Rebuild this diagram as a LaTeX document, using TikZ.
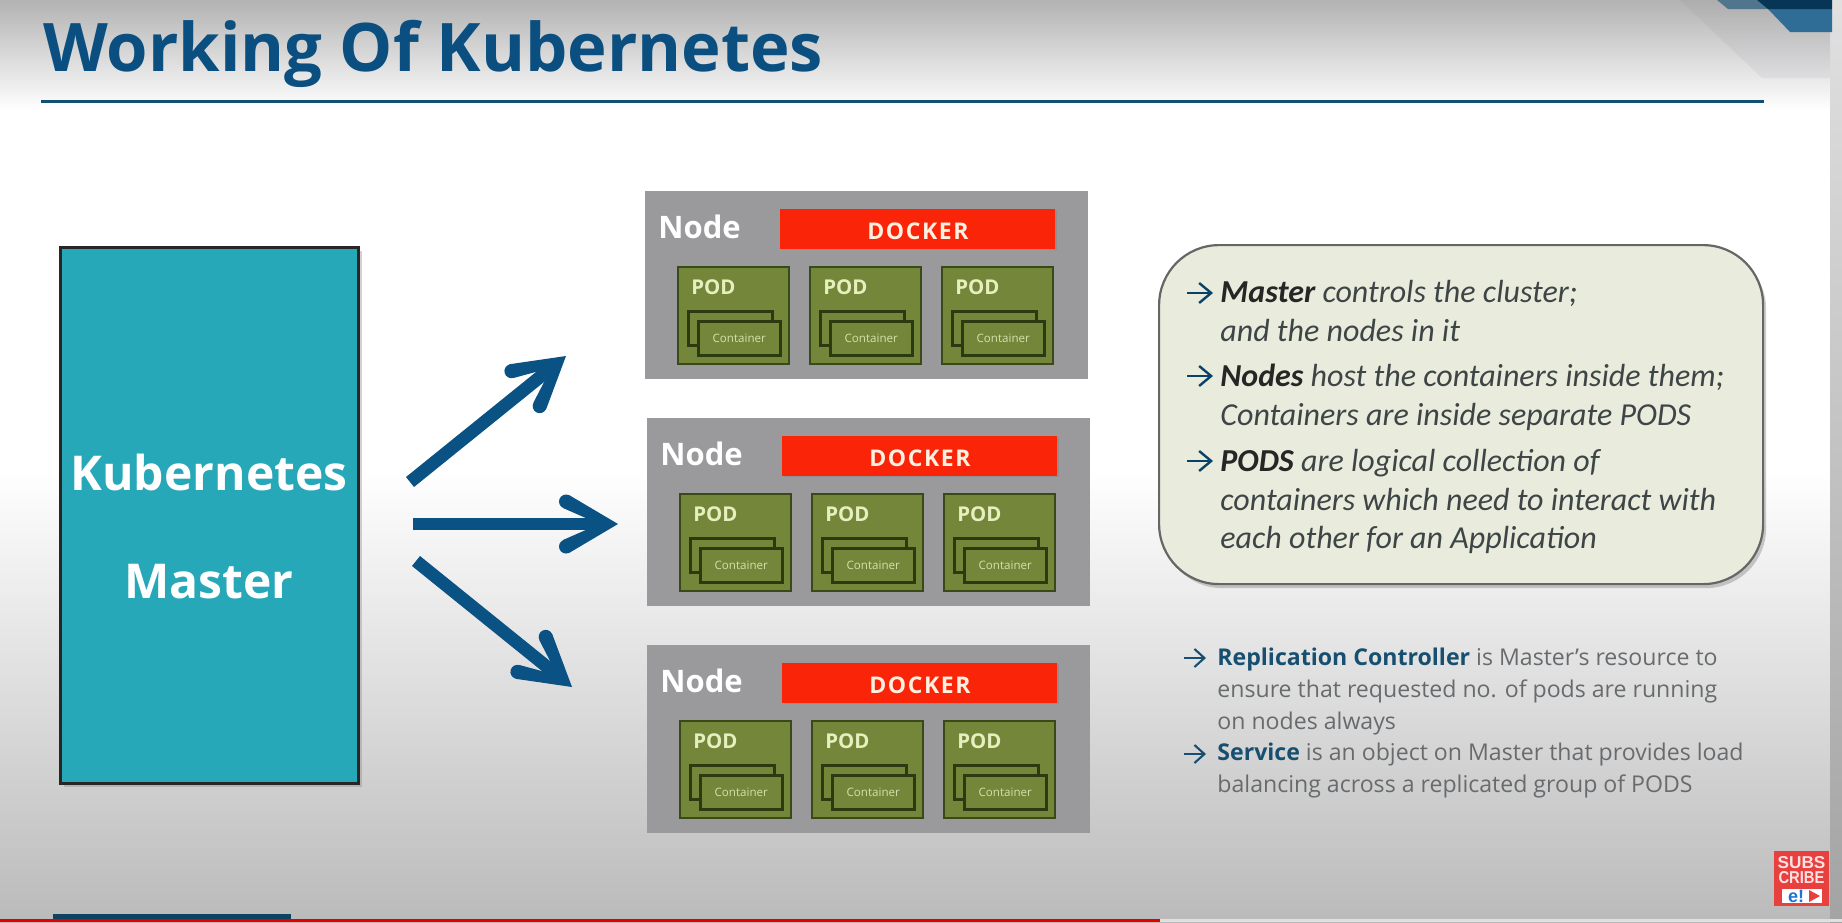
\documentclass[tikz,border=0pt]{standalone}
\usepackage{fontspec}
\setmainfont{Open Sans}
\newfontfamily\calib{Carlito}
\newfontfamily\arialish{Liberation Sans}
\usetikzlibrary{arrows.meta,shadows}
\definecolor{navy}{HTML}{0A5283}
\definecolor{titleblue}{HTML}{0A4F80}
\definecolor{rulecolor}{HTML}{104E72}
\definecolor{teal}{HTML}{27A8B8}
\definecolor{nodegray}{HTML}{9A9A9C}
\definecolor{dockred}{HTML}{FA2408}
\definecolor{podgreen}{HTML}{748639}
\definecolor{poddark}{HTML}{2B3A10}
\definecolor{podtext}{HTML}{E6F0BE}
\definecolor{calloutfill}{HTML}{E9ECDC}
\definecolor{bodytext}{HTML}{3E4546}
\definecolor{lowertext}{HTML}{686B6D}
\definecolor{lowerbold}{HTML}{174F70}
\definecolor{badgered}{HTML}{E8403F}
\tikzset{
  x=0.5pt,y=-0.5pt,
  nodebox/.style={anchor=north west,fill=nodegray,minimum width=221.5pt,minimum height=94pt,inner sep=0pt},
  nodelabel/.style={anchor=base west,text=white,font=\fontsize{15.5}{18}\selectfont\bfseries,inner sep=0pt},
  dockerbar/.style={anchor=north west,fill=dockred,minimum width=137.5pt,minimum height=20pt,inner sep=0pt,drop shadow={shadow xshift=1pt,shadow yshift=-0.5pt,opacity=.35}},
  dockerlabel/.style={anchor=base,text=white!88!orange,font=\fontsize{11.5}{14}\selectfont\bfseries,inner sep=0pt},
  podbox/.style={anchor=north west,fill=podgreen,draw=poddark!80!podgreen,line width=.9pt,minimum width=55.5pt,minimum height=48.5pt,inner sep=0pt},
  podlabel/.style={anchor=base west,text=podtext,font=\fontsize{10.2}{12}\selectfont\bfseries,inner sep=0pt},
  ctrback/.style={anchor=north west,fill=podgreen,draw=poddark,line width=1.3pt,minimum width=42pt,minimum height=17pt,inner sep=0pt},
  ctrfront/.style={anchor=north west,fill=podgreen,draw=poddark,line width=1.3pt,minimum width=41pt,minimum height=17pt,inner sep=0pt,text=podtext!85!podgreen,font=\fontsize{5.8}{7}\selectfont},
  bigshaft/.style={draw=navy,line width=6.4pt,shorten >=9pt},
  bullet/.style={draw=navy!80!black,line width=1.2pt,-{Straight Barb[length=6pt,width=10pt,line width=1.2pt]}},
  lowbullet/.style={draw=lowerbold,line width=1.05pt,-{Straight Barb[length=5pt,width=9pt,line width=1.05pt]}},
  para/.style={anchor=north west,align=left,inner sep=0pt,text=bodytext,font=\calib\fontsize{16}{19.2}\selectfont\itshape},
  lower/.style={anchor=north west,align=left,inner sep=0pt,text=lowertext,font=\fontsize{11.55}{15.8}\selectfont},
}
\newcommand{\bighead}[2]{%
  \fill[navy,shift={(#1)},rotate=#2] (0,0) -- (-49,-29) -- (-55,-16) -- (-30,-5) -- (-30,5) -- (-55,16) -- (-49,29) -- cycle
    (-52,-22.5) circle[radius=3.5pt] (-52,22.5) circle[radius=3.5pt];
}
\newcommand{\kubepod}[3]{%
  \node[podbox] (#1) at (#2,#3) {};
  \node[podlabel] (#1-label) at (#2+14,#3+28) {POD};
  \node[ctrback] (#1-back) at (#2+10,#3+44) {};
  \node[ctrfront] (#1-ctr) at (#2+20,#3+54) {Container};
}
\newcommand{\kubeblock}[3]{%
  \begin{scope}[shift={(#2,#3)}]
    \node[nodebox] (#1) at (0,0) {};
    \node[nodelabel] (#1-label) at (13,47) {Node};
    \node[dockerbar] (#1-docker) at (135,18) {};
    \node[dockerlabel] (#1-dockerlabel) at (273,48) {D\hspace{.8pt}O\hspace{.8pt}C\hspace{.8pt}K\hspace{.8pt}E\hspace{.8pt}R};
    \kubepod{#1-pod1}{32}{75}
    \kubepod{#1-pod2}{164}{75}
    \kubepod{#1-pod3}{296}{75}
  \end{scope}
}
\begin{document}
\begin{tikzpicture}
\useasboundingbox (0,0) rectangle (1842,922);
% background
\fill[white] (0,0) rectangle (1842,922);
\shade[top color=black!30,bottom color=white] (0,0) rectangle (1842,110);
\shade[top color=white,bottom color=black!27] (0,470) rectangle (1842,922);
% side strip
\shade[top color=black!12,bottom color=black!36] (1830,0) rectangle (1842,922);
% top-right corner
\shade[top color=black!32,bottom color=blue!8!black!13] (1680,0) -- (1762,78) -- (1830,78) -- (1830,0) -- cycle;
\fill[black!30!navy!70!white] (1717,0) -- (1728,9) -- (1770,9) -- (1757,0) -- cycle;
\fill[navy!85!white] (1768,9) -- (1790,32) -- (1832,32) -- (1832,9) -- cycle;
\fill[navy!65!black] (1757,0) -- (1768,9) -- (1832,9) -- (1832,0) -- cycle;
% title
\node[anchor=base west,inner sep=0pt,text=titleblue,font=\fontsize{33.5}{40}\selectfont\bfseries] (title) at (43,71) {Working Of Kubernetes};
\coordinate (ruleL) at (41,101);
\coordinate (ruleR) at (1764,101);
\draw[rulecolor,line width=1.5pt] (ruleL) -- (ruleR);
% master
\node[anchor=north west,fill=teal,draw=black!85,line width=1.3pt,minimum width=149pt,minimum height=268pt,inner sep=0pt,drop shadow={shadow xshift=2pt,shadow yshift=-2pt,opacity=.35}] (master) at (59,246) {};
\node[anchor=base,text=white,inner sep=0pt,font=\fontsize{24}{30}\selectfont\bfseries] (kube) at (209,490) {Kubernetes};
\node[anchor=base,text=white,inner sep=0pt,font=\fontsize{24}{30}\selectfont\bfseries] (mastertext) at (209,598) {Master};
% arrows
\coordinate (a1s) at (410,482); \coordinate (a1e) at (566,356);
\coordinate (a2s) at (413,524); \coordinate (a2e) at (618,524);
\coordinate (a3s) at (416,561); \coordinate (a3e) at (572,687);
\draw[bigshaft] (a1s) -- (a1e);
\draw[bigshaft] (a2s) -- (a2e);
\draw[bigshaft] (a3s) -- (a3e);
\bighead{a1e}{38.9}
\bighead{a2e}{0}
\bighead{a3e}{-38.9}
% node blocks
\kubeblock{nodeA}{645}{191}
\kubeblock{nodeB}{647}{418}
\kubeblock{nodeC}{647}{645}
% callout
\node[anchor=north west,fill=calloutfill,draw=black!60,line width=1.1pt,rounded corners=30pt,minimum width=302pt,minimum height=169.5pt,inner sep=0pt,drop shadow={shadow xshift=1.5pt,shadow yshift=-2pt,opacity=.4}] (callout) at (1158,244) {};
\node[para] (p1) at (1220,280) {\textbf{\textcolor{black!85}{Master}} controls the cluster;\\and the nodes in it};
\node[para] (p2) at (1220,364) {\textbf{\textcolor{black!85}{Nodes}} host the containers inside them;\\Containers are inside separate PODS};
\node[para] (p3) at (1220,449) {\textbf{\textcolor{black!85}{PODS}} are logical collection of\\containers which need to interact with\\each other for an Application};
\coordinate (b1s) at (1187,293); \coordinate (b1e) at (1213,293);
\coordinate (b2s) at (1187,376); \coordinate (b2e) at (1213,376);
\coordinate (b3s) at (1187,461); \coordinate (b3e) at (1213,461);
\draw[bullet] (b1s) -- (b1e);
\draw[bullet] (b2s) -- (b2e);
\draw[bullet] (b3s) -- (b3e);
% lower notes
\node[lower] (n1) at (1217,648) {\textcolor{lowerbold}{\textbf{Replication Controller}} is Master’s resource to\\ensure that requested no. of pods are running\\on nodes always};
\node[lower] (n2) at (1217,743) {\textcolor{lowerbold}{\textbf{Service}} is an object on Master that provides load\\balancing across a replicated group of PODS};
\coordinate (b4s) at (1184,658); \coordinate (b4e) at (1206,658);
\coordinate (b5s) at (1184,754); \coordinate (b5e) at (1206,754);
\draw[lowbullet] (b4s) -- (b4e);
\draw[lowbullet] (b5s) -- (b5e);
% bottom bars
\fill[rulecolor!85!black] (53,914) rectangle (291,919);
\fill[black!12] (1160,919) rectangle (1842,922);
\fill[red!90!black] (0,919) rectangle (1160,922);
% subscribe badge
\node[anchor=north west,fill=badgered,minimum width=27.5pt,minimum height=27.5pt,inner sep=0pt] (badge) at (1774,851) {};
\node[anchor=center,text=white!88!red,inner sep=0pt,font=\arialish\fontsize{8.6}{9}\selectfont\bfseries] (subs) at (1801.5,863) {SUBS};
\node[anchor=center,text=white!88!red,inner sep=0pt,font=\arialish\fontsize{8.6}{9}\selectfont\bfseries,xscale=.86] (cribe) at (1801.5,878) {CRIBE};
\node[anchor=north west,fill=white,minimum width=20pt,minimum height=7pt,inner sep=0pt] (ebox) at (1782,889) {};
\node[anchor=center,text=teal!70!blue,inner sep=0pt,font=\arialish\fontsize{9}{9}\selectfont\bfseries] (elabel) at (1796,896) {e!};
\fill[badgered] (1809,890) -- (1820,896) -- (1809,902) -- cycle;
\end{tikzpicture}
\end{document}
